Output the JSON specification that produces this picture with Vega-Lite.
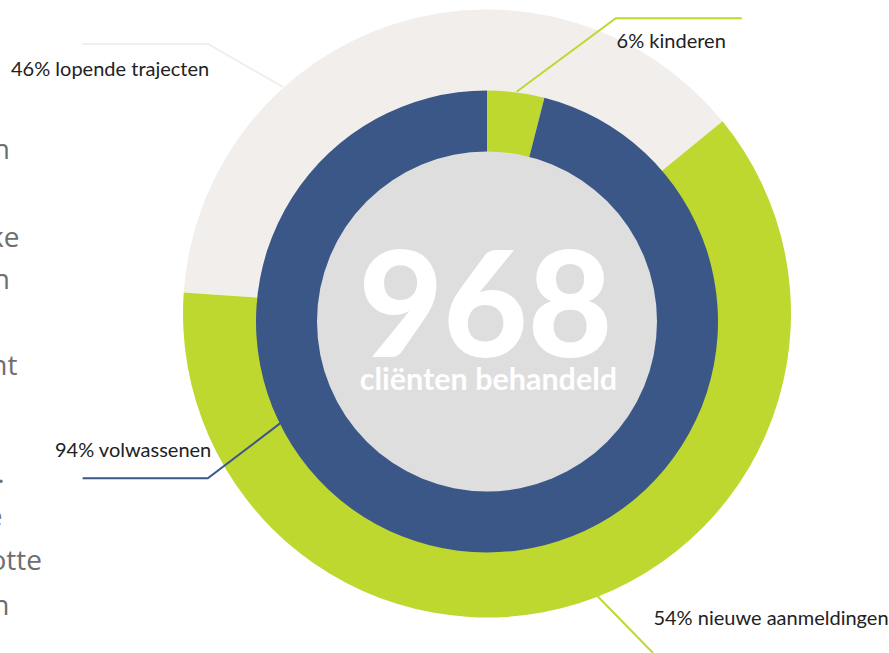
{
  "$schema": "https://vega.github.io/schema/vega-lite/v6.json",
  "width": 889,
  "height": 653,
  "autosize": {"type": "none"},
  "padding": 0,
  "background": "white",
  "config": {"view": {"stroke": null}},
  "datasets": {
    "rings": [
      {"ring": "outer", "segment": "lopende trajecten", "share": 38, "rank": 1},
      {"ring": "outer", "segment": "nieuwe aanmeldingen", "share": 62, "rank": 2},
      {"ring": "inner", "segment": "kinderen", "share": 4, "rank": 1},
      {"ring": "inner", "segment": "volwassenen", "share": 96, "rank": 2}
    ],
    "total": [{"count": 968, "caption": "cliënten behandeld"}],
    "leaders": [
      {"segment": "kinderen", "step": 1, "lx": 7.4, "ly": 56.45},
      {"segment": "kinderen", "step": 2, "lx": 32.2, "ly": 74.8},
      {"segment": "kinderen", "step": 3, "lx": 63.7, "ly": 74.8},
      {"segment": "lopende trajecten", "step": 1, "lx": -101.25, "ly": 68.4},
      {"segment": "lopende trajecten", "step": 2, "lx": -69.75, "ly": 68.4},
      {"segment": "lopende trajecten", "step": 3, "lx": -51, "ly": 57.6},
      {"segment": "volwassenen", "step": 1, "lx": -101.1, "ly": -40.2},
      {"segment": "volwassenen", "step": 2, "lx": -69.8, "ly": -40.2},
      {"segment": "volwassenen", "step": 3, "lx": -51, "ly": -25.9},
      {"segment": "nieuwe aanmeldingen", "step": 1, "lx": 26.5, "ly": -68.5},
      {"segment": "nieuwe aanmeldingen", "step": 2, "lx": 41.5, "ly": -83.875}
    ],
    "labels": [
      {"segment": "lopende trajecten", "text": "46% lopende trajecten", "lx": -119, "ly": 60.45},
      {"segment": "kinderen", "text": "6% kinderen", "lx": 32.4, "ly": 67.3},
      {"segment": "volwassenen", "text": "94% volwassenen", "lx": -108, "ly": -34.95},
      {"segment": "nieuwe aanmeldingen", "text": "54% nieuwe aanmeldingen", "lx": 41.6, "ly": -76.9}
    ],
    "cutoff": [
      {"text": "n", "lx": -119.25, "ly": 39.6},
      {"text": "ke", "lx": -116.9, "ly": 17.6},
      {"text": "n", "lx": -119.25, "ly": 7.1},
      {"text": "nt", "lx": -117.4, "ly": -14.4},
      {"text": ".", "lx": -120.6, "ly": -41.4},
      {"text": "e", "lx": -121.1, "ly": -52.1},
      {"text": "otte", "lx": -111.25, "ly": -63.1},
      {"text": "n", "lx": -119.4, "ly": -74.4}
    ]
  },
  "resolve": {"scale": {"theta": "independent"}},
  "layer": [
    {
      "data": {"name": "rings"},
      "transform": [{"filter": "datum.ring === 'outer'"}],
      "mark": {"type": "arc", "radius": 304, "radius2": 212},
      "encoding": {
        "x": {"datum": 0, "type": "quantitative", "scale": {"domain": [-121.75, 100.5], "nice": false, "zero": false}, "axis": null},
        "y": {"datum": 1, "type": "quantitative", "scale": {"domain": [-83.875, 79.375], "nice": false, "zero": false}, "axis": null},
        "theta": {"field": "share", "type": "quantitative", "stack": true, "scale": {"range": [4.782, 11.065]}},
        "order": {"field": "rank"},
        "color": {
          "field": "segment",
          "type": "nominal",
          "legend": null,
          "scale": {
            "domain": ["lopende trajecten", "nieuwe aanmeldingen", "kinderen", "volwassenen"],
            "range": ["#f1eeeb", "#bed830", "#bed830", "#3b5788"]
          }
        }
      }
    },
    {
      "data": {"name": "rings"},
      "transform": [{"filter": "datum.ring === 'inner'"}],
      "mark": {"type": "arc", "radius": 231, "radius2": 168},
      "encoding": {
        "x": {"datum": 0, "type": "quantitative"},
        "y": {"datum": -1, "type": "quantitative"},
        "theta": {"field": "share", "type": "quantitative", "stack": true, "scale": {"range": [0, 6.2832]}},
        "order": {"field": "rank"},
        "color": {"field": "segment", "type": "nominal", "legend": null}
      }
    },
    {
      "data": {"name": "total"},
      "mark": {"type": "arc", "radius": 170, "color": "#dedede"},
      "encoding": {
        "x": {"datum": 0, "type": "quantitative"},
        "y": {"datum": -1, "type": "quantitative"},
        "theta": {"field": "count", "type": "quantitative", "stack": true}
      }
    },
    {
      "data": {"name": "total"},
      "mark": {"type": "text", "align": "center", "baseline": "alphabetic", "font": "Lato", "fontWeight": 900, "fontSize": 146, "color": "white"},
      "encoding": {
        "x": {"datum": -0.4, "type": "quantitative"},
        "y": {"datum": -9.8, "type": "quantitative"},
        "text": {"field": "count", "type": "quantitative"}
      }
    },
    {
      "data": {"name": "total"},
      "mark": {"type": "text", "align": "center", "baseline": "alphabetic", "font": "Lato", "fontWeight": "bold", "fontSize": 30.5, "color": "white"},
      "encoding": {
        "x": {"datum": 0.35, "type": "quantitative"},
        "y": {"datum": -18.1, "type": "quantitative"},
        "text": {"field": "caption", "type": "nominal"}
      }
    },
    {
      "data": {"name": "leaders"},
      "mark": {"type": "line", "strokeWidth": 2},
      "encoding": {
        "x": {"field": "lx", "type": "quantitative"},
        "y": {"field": "ly", "type": "quantitative"},
        "order": {"field": "step"},
        "detail": {"field": "segment"},
        "color": {"field": "segment", "type": "nominal", "legend": null}
      }
    },
    {
      "data": {"name": "labels"},
      "mark": {"type": "text", "align": "left", "baseline": "alphabetic", "font": "Lato", "fontSize": 20, "color": "#222222"},
      "encoding": {
        "x": {"field": "lx", "type": "quantitative"},
        "y": {"field": "ly", "type": "quantitative"},
        "text": {"field": "text", "type": "nominal"}
      }
    },
    {
      "data": {"name": "cutoff"},
      "mark": {"type": "text", "align": "right", "baseline": "alphabetic", "font": "Open Sans", "fontSize": 28, "color": "#6d6e70"},
      "encoding": {
        "x": {"field": "lx", "type": "quantitative"},
        "y": {"field": "ly", "type": "quantitative"},
        "text": {"field": "text", "type": "nominal"}
      }
    }
  ]
}
